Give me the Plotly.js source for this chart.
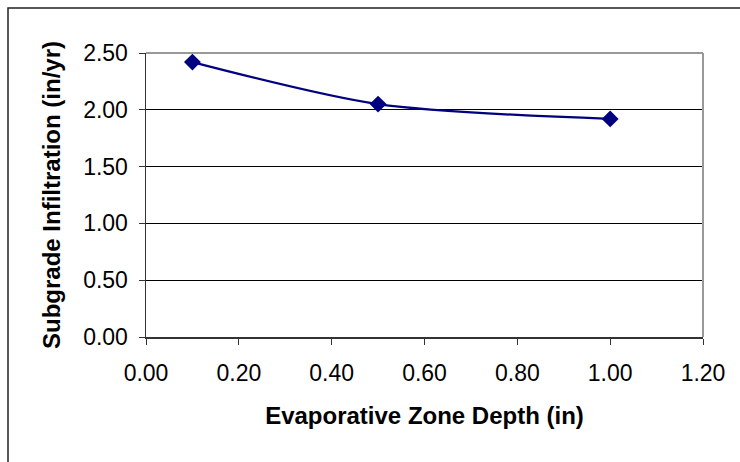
<!DOCTYPE html>
<html>
<head>
<meta charset="utf-8">
<script src="https://cdn.plot.ly/plotly-3.0.1.min.js"></script>
<style>
html,body{margin:0;padding:0;background:#fff;}
#chart{width:740px;height:462px;}
</style>
</head>
<body>
<div id="chart"></div>
<script>
var depth = [0.1, 0.5, 1.0];
var infiltration = [2.42, 2.05, 1.92];
var xTicks = [0, 0.2, 0.4, 0.6, 0.8, 1.0, 1.2];
var yTicks = [0, 0.5, 1.0, 1.5, 2.0, 2.5];

var L = 146, R = 703, T = 53, B = 337, W = 740, H = 462;
var pw = R - L, ph = B - T;

var trace = {
  x: depth,
  y: infiltration,
  type: 'scatter',
  mode: 'lines+markers',
  line: {color: '#000080', width: 2.2, shape: 'spline', smoothing: 0.8},
  marker: {symbol: 'diamond', size: 13, color: '#000080'},
  hoverinfo: 'skip'
};

var font = 'Liberation Sans, Arial, sans-serif';

var layout = {
  width: W, height: H,
  margin: {l: L, r: W - R, t: T, b: H - B, pad: 0},
  paper_bgcolor: '#ffffff',
  plot_bgcolor: '#ffffff',
  showlegend: false,
  font: {family: font, color: '#000000'},
  xaxis: {
    range: [0, 1.2],
    tickvals: xTicks,
    ticktext: xTicks.map(function(v){return v.toFixed(2);}),
    showgrid: false,
    zeroline: false,
    showline: true,
    linecolor: '#333333',
    linewidth: 1.5,
    ticks: 'outside',
    ticklen: 6,
    tickwidth: 1,
    tickcolor: '#333333',
    ticklabelstandoff: 9,
    tickfont: {family: font, size: 23, color: '#000000'},
    title: {text: '<b>Evaporative Zone Depth (in)</b>', font: {family: font, size: 24, color: '#000000'}, standoff: 22}
  },
  yaxis: {
    range: [0, 2.5],
    tickvals: yTicks,
    ticktext: yTicks.map(function(v){return v.toFixed(2);}),
    showgrid: true,
    gridcolor: '#000000',
    gridwidth: 1,
    zeroline: false,
    showline: true,
    linecolor: '#333333',
    linewidth: 1.5,
    ticks: 'outside',
    ticklen: 6,
    tickwidth: 1,
    tickcolor: '#333333',
    ticklabelstandoff: 6,
    tickfont: {family: font, size: 23, color: '#000000'},
    title: {text: '<b>Subgrade Infiltration (in/yr)</b>', font: {family: font, size: 24, color: '#000000'}, standoff: 15}
  },
  shapes: [
    {type: 'line', xref: 'paper', yref: 'paper', x0: 0, x1: 1, y0: 1, y1: 1, line: {color: '#999999', width: 2}, layer: 'above'},
    {type: 'line', xref: 'paper', yref: 'paper', x0: 1, x1: 1, y0: 0, y1: 1, line: {color: '#999999', width: 2}, layer: 'above'},
    {type: 'rect', xref: 'paper', yref: 'paper',
     x0: (8 - L) / pw, x1: (760 - L) / pw,
     y0: (B - 480) / ph, y1: 1 + (T - 8) / ph,
     line: {color: '#222222', width: 1.5}, fillcolor: 'rgba(0,0,0,0)', layer: 'above'}
  ]
};

Plotly.newPlot('chart', [trace], layout, {displayModeBar: false, staticPlot: true});
</script>
</body>
</html>
